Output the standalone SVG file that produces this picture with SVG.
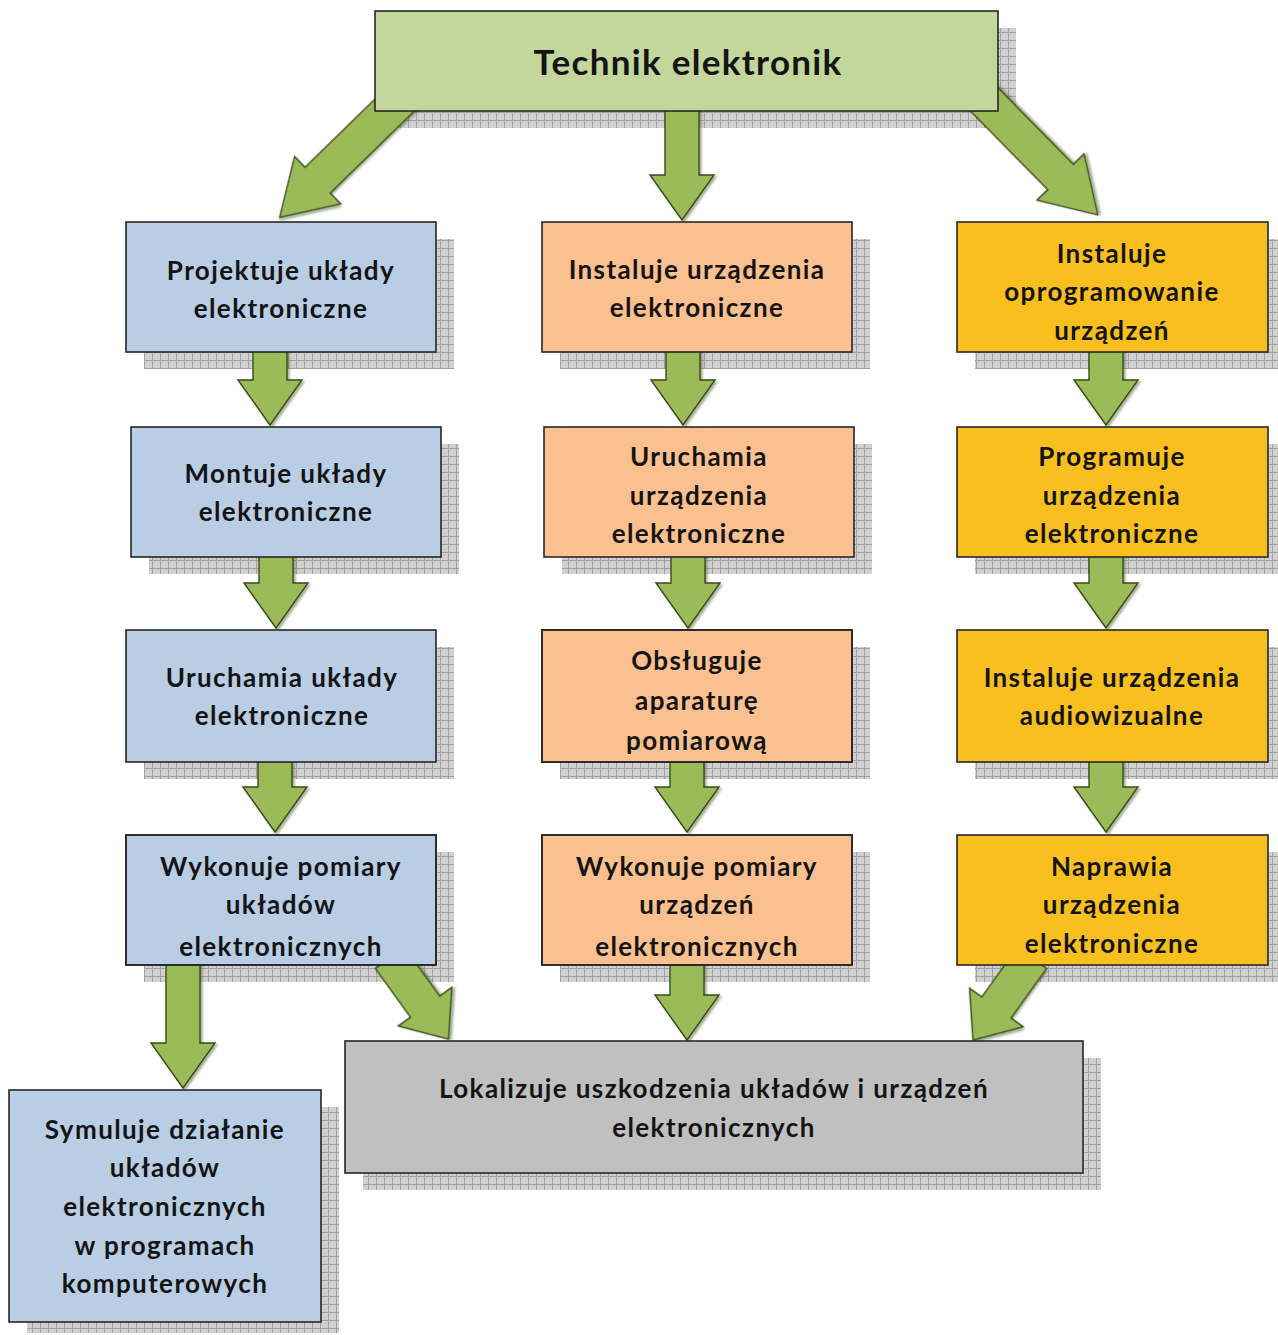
<svg xmlns="http://www.w3.org/2000/svg" width="1278" height="1335" viewBox="0 0 1278 1335">
<style>
.box{stroke:#262626;stroke-width:1.6}
.blue{fill:#b9cde5}.orange{fill:#fac090}.gold{fill:#f8bf1f}.green{fill:#c3d69b}.grey{fill:#c0c0c0}
.sh{fill:url(#grid)}
.arr{fill:#9bbb59;stroke:#3b4a1e;stroke-width:1.4;stroke-linejoin:miter;filter:url(#ds)}
text{font-family:Lato,"Open Sans","Liberation Sans",sans-serif;font-weight:700;font-size:26px;letter-spacing:1.4px;fill:#141414;text-anchor:middle}
.title{font-size:35px;letter-spacing:1.3px}
</style>
<defs>
<pattern id="grid" width="8" height="8" patternUnits="userSpaceOnUse">
<rect width="8" height="8" fill="#d0d0d0"/>
<path d="M0 0.5H8M0.5 0V8" stroke="#a0a0a0" stroke-width="1" fill="none"/>
</pattern>
<filter id="ds" x="-20%" y="-20%" width="140%" height="140%">
<feDropShadow dx="2" dy="2" stdDeviation="1" flood-color="#4f6228" flood-opacity="0.5"/>
</filter>
<clipPath id="c14"><rect x="126" y="835" width="310" height="130"/></clipPath>
<clipPath id="c23"><rect x="542" y="630" width="310" height="132"/></clipPath>
<clipPath id="c24"><rect x="542" y="835" width="310" height="130"/></clipPath>
</defs>
<rect width="1278" height="1335" fill="#ffffff"/>

<g id="shadows">
<rect class="sh" x="393" y="28" width="623" height="100"/>
<rect class="sh" x="144" y="239" width="310" height="130"/>
<rect class="sh" x="149" y="444" width="310" height="130"/>
<rect class="sh" x="144" y="647" width="310" height="132"/>
<rect class="sh" x="144" y="852" width="310" height="130"/>
<rect class="sh" x="27" y="1107" width="312" height="226"/>
<rect class="sh" x="560" y="239" width="310" height="130"/>
<rect class="sh" x="562" y="444" width="310" height="130"/>
<rect class="sh" x="560" y="647" width="310" height="132"/>
<rect class="sh" x="560" y="852" width="310" height="130"/>
<rect class="sh" x="975" y="239" width="303" height="130"/>
<rect class="sh" x="975" y="444" width="303" height="130"/>
<rect class="sh" x="975" y="647" width="303" height="132"/>
<rect class="sh" x="975" y="852" width="303" height="130"/>
<rect class="sh" x="363" y="1058" width="738" height="132"/>
</g>

<g id="connectors">
<path class="arr" transform="translate(405,95) rotate(45.7)" d="M-18,0L18,0L18,122L33,122L0,175L-33,122L-18,122Z"/>
<path class="arr" transform="translate(682,106)" d="M-17,0L17,0L17,69L32,69L0,114L-32,69L-17,69Z"/>
<path class="arr" transform="translate(975,90) rotate(-44.5)" d="M-18,0L18,0L18,122L33,122L0,175L-33,122L-18,122Z"/>
<path class="arr" transform="translate(270,347)" d="M-17,0L17,0L17,33L32,33L0,78L-32,33L-17,33Z"/>
<path class="arr" transform="translate(276,552)" d="M-17,0L17,0L17,31L32,31L0,76L-32,31L-17,31Z"/>
<path class="arr" transform="translate(275,757)" d="M-17,0L17,0L17,30L32,30L0,75L-32,30L-17,30Z"/>
<path class="arr" transform="translate(183,960)" d="M-17,0L17,0L17,83L32,83L0,128L-32,83L-17,83Z"/>
<path class="arr" transform="translate(390,958) rotate(-35.8)" d="M-18,0L18,0L18,60L33,60L0,100L-33,60L-18,60Z"/>
<path class="arr" transform="translate(683,347)" d="M-17,0L17,0L17,33L32,33L0,78L-32,33L-17,33Z"/>
<path class="arr" transform="translate(688,552)" d="M-17,0L17,0L17,31L32,31L0,76L-32,31L-17,31Z"/>
<path class="arr" transform="translate(687,757)" d="M-17,0L17,0L17,30L32,30L0,75L-32,30L-17,30Z"/>
<path class="arr" transform="translate(687,960)" d="M-17,0L17,0L17,35L32,35L0,80L-32,35L-17,35Z"/>
<path class="arr" transform="translate(1106,347)" d="M-17,0L17,0L17,33L32,33L0,78L-32,33L-17,33Z"/>
<path class="arr" transform="translate(1106,552)" d="M-17,0L17,0L17,31L32,31L0,76L-32,31L-17,31Z"/>
<path class="arr" transform="translate(1106,757)" d="M-17,0L17,0L17,30L32,30L0,75L-32,30L-17,30Z"/>
<path class="arr" transform="translate(1032,958) rotate(35.7)" d="M-18,0L18,0L18,61L33,61L0,101L-33,61L-18,61Z"/>
</g>

<g id="n-top">
<rect class="box green" x="375" y="11" width="623" height="100"/>
<text class="title" x="688" y="75">Technik elektronik</text>
</g>

<g id="n-c1-1">
<rect class="box blue" x="126" y="222" width="310" height="130"/>
<text x="281" y="280">Projektuje układy</text>
<text x="281" y="318">elektroniczne</text>
</g>
<g id="n-c1-2">
<rect class="box blue" x="131" y="427" width="310" height="130"/>
<text x="286" y="483">Montuje układy</text>
<text x="286" y="521">elektroniczne</text>
</g>
<g id="n-c1-3">
<rect class="box blue" x="126" y="630" width="310" height="132"/>
<text x="282" y="687">Uruchamia układy</text>
<text x="282" y="725">elektroniczne</text>
</g>
<g id="n-c1-4">
<rect class="box blue" x="126" y="835" width="310" height="130"/>
<g clip-path="url(#c14)">
<text x="281" y="876">Wykonuje pomiary</text>
<text x="281" y="914">układów</text>
<text x="281" y="956">elektronicznych</text>
</g>
<rect x="126" y="835" width="310" height="130" fill="none" stroke="#262626" stroke-width="1.6"/>
</g>
<g id="n-sym">
<rect class="box blue" x="9" y="1090" width="312" height="232"/>
<text x="165" y="1139">Symuluje działanie</text>
<text x="165" y="1177">układów</text>
<text x="165" y="1216">elektronicznych</text>
<text x="165" y="1255">w programach</text>
<text x="165" y="1293">komputerowych</text>
</g>

<g id="n-c2-1">
<rect class="box orange" x="542" y="222" width="310" height="130"/>
<text x="697" y="279">Instaluje urządzenia</text>
<text x="697" y="317">elektroniczne</text>
</g>
<g id="n-c2-2">
<rect class="box orange" x="544" y="427" width="310" height="130"/>
<text x="699" y="466">Uruchamia</text>
<text x="699" y="505">urządzenia</text>
<text x="699" y="543">elektroniczne</text>
</g>
<g id="n-c2-3">
<rect class="box orange" x="542" y="630" width="310" height="132"/>
<g clip-path="url(#c23)">
<text x="697" y="670">Obsługuje</text>
<text x="697" y="710">aparaturę</text>
<text x="697" y="750">pomiarową</text>
</g>
<rect x="542" y="630" width="310" height="132" fill="none" stroke="#262626" stroke-width="1.6"/>
</g>
<g id="n-c2-4">
<rect class="box orange" x="542" y="835" width="310" height="130"/>
<g clip-path="url(#c24)">
<text x="697" y="876">Wykonuje pomiary</text>
<text x="697" y="914">urządzeń</text>
<text x="697" y="956">elektronicznych</text>
</g>
<rect x="542" y="835" width="310" height="130" fill="none" stroke="#262626" stroke-width="1.6"/>
</g>

<g id="n-c3-1">
<rect class="box gold" x="957" y="222" width="311" height="130"/>
<text x="1112" y="263">Instaluje</text>
<text x="1112" y="301">oprogramowanie</text>
<text x="1112" y="340">urządzeń</text>
</g>
<g id="n-c3-2">
<rect class="box gold" x="957" y="427" width="311" height="130"/>
<text x="1112" y="466">Programuje</text>
<text x="1112" y="505">urządzenia</text>
<text x="1112" y="543">elektroniczne</text>
</g>
<g id="n-c3-3">
<rect class="box gold" x="957" y="630" width="311" height="132"/>
<text x="1112" y="687">Instaluje urządzenia</text>
<text x="1112" y="725">audiowizualne</text>
</g>
<g id="n-c3-4">
<rect class="box gold" x="957" y="835" width="311" height="130"/>
<text x="1112" y="876">Naprawia</text>
<text x="1112" y="914">urządzenia</text>
<text x="1112" y="953">elektroniczne</text>
</g>

<g id="n-grey">
<rect class="box grey" x="345" y="1041" width="738" height="132"/>
<text x="714" y="1098">Lokalizuje uszkodzenia układów i urządzeń</text>
<text x="714" y="1137">elektronicznych</text>
</g>
</svg>
